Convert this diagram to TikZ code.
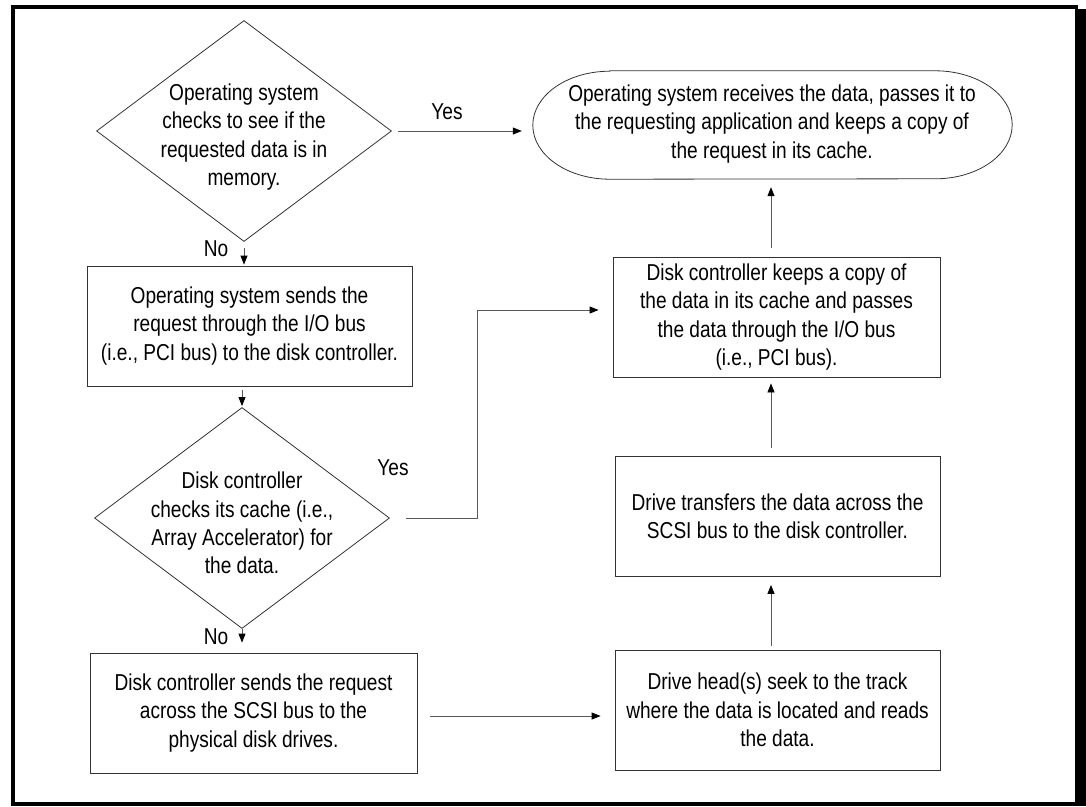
\documentclass[tikz,border=0pt]{standalone}
\usepackage{fontspec}
\setmainfont{Liberation Sans}[FakeStretch=0.83]
\usetikzlibrary{shapes.geometric,arrows.meta,calc}
\tikzset{
  txt/.style={align=center, inner sep=0pt, font=\fontsize{23}{28.4}\selectfont},
  boxnode/.style={draw=black!80, line width=0.8pt, minimum width=#1, minimum height=120pt, inner sep=0pt},
  dia/.style={draw=black!80, line width=0.8pt, diamond, minimum width=295pt, minimum height=221pt, inner sep=0pt},
  arr/.style={draw=black!65, line width=0.8pt, -{Triangle[length=9pt,width=7pt,color=black]}},
  frame/.style={fill=black, draw=none}
}
\begin{document}
\begin{tikzpicture}[x=1pt,y=-1pt]
\useasboundingbox (0,0) rectangle (1086,806);
% frame
\fill[frame] (11,5) rectangle (1078,9);
\fill[frame] (11,5) rectangle (15,806);
\fill[frame] (11,802) rectangle (1086,806);
\fill[frame] (1075,9) rectangle (1086,806);

% decision 1
\node[dia] (d1) at (244,131) {};
\node[txt] (d1t) at (244,137) {Operating system\\checks to see if the\\requested data is in\\memory.};

% terminal ellipse
\node[minimum width=479pt, minimum height=108pt, inner sep=0pt] (e) at (772.5,125) {};
\draw[draw=black!80, line width=0.8pt]
  ($(e.north west)+(77,0)$) -- ($(e.north east)+(-77,0)$)
  arc[start angle=-90, end angle=90, x radius=77, y radius=54]
  -- ($(e.south west)+(77,0)$)
  arc[start angle=90, end angle=270, x radius=77, y radius=54] -- cycle;
\node[txt] (et) at (772,124) {Operating system receives the data, passes it to\\the requesting application and keeps a copy of\\the request in its cache.};

% boxes
\node[boxnode=325pt, txt] (b1) at (249.5,326) {Operating system sends the\\request through the I/O bus\\(i.e., PCI bus) to the disk controller.};
\node[boxnode=327pt, txt] (b2) at (776.5,317) {Disk controller keeps a copy of\\the data in its cache and passes\\the data through the I/O bus\\(i.e., PCI bus).};
\node[boxnode=325pt, txt] (b3) at (777.5,516.5) {Drive transfers the data across the\\SCSI bus to the disk controller.};
\node[boxnode=325pt, txt] (b4) at (777.5,710) {Drive head(s) seek to the track\\where the data is located and reads\\the data.};
\node[boxnode=327pt, txt] (b5) at (253.5,713) {Disk controller sends the request\\across the SCSI bus to the\\physical disk drives.};

% decision 2
\node[dia] (d2) at (242,518) {};
\node[txt] (d2t) at (242,523) {Disk controller\\checks its cache (i.e.,\\Array Accelerator) for\\the data.};

% labels
\node[txt] (y1) at (447,112) {Yes};
\node[txt] (n1) at (216,249) {No};
\node[txt] (y2) at (393,468) {Yes};
\node[txt] (n2) at (216,637) {No};

% connectors
\draw[arr, shorten <=6pt, shorten >=11pt] (d1.east) -- (d1.east -| e.west);
\draw[arr, shorten <=6pt, shorten >=1pt] (d1.south) -- (d1.south |- b1.north);
\draw[arr, shorten <=4pt, shorten >=1pt] (b1.south -| d2.north) -- (d2.north);
\coordinate (yc) at (477,310);
\draw[arr, shorten <=16pt, shorten >=14pt] (d2.east) -- (d2.east -| yc) -- (yc) -- (yc -| b2.west);
\draw[arr, shorten >=10pt] (d2.south) -- (d2.south |- b5.north);
\coordinate (s5) at ([yshift=-3pt]b5.east);
\draw[arr, shorten <=13pt, shorten >=14pt] (s5) -- (s5 -| b4.west);
\coordinate (c4) at ([xshift=-6.5pt]b4.north);
\draw[arr, shorten <=4pt, shorten >=8pt] (c4) -- (c4 |- b3.south);
\coordinate (c3) at ([xshift=-6.5pt]b3.north);
\draw[arr, shorten <=8pt, shorten >=6pt] (c3) -- (c3 |- b2.south);
\coordinate (c2) at ([xshift=-5.5pt]b2.north);
\draw[arr, shorten <=9pt, shorten >=8pt] (c2) -- (c2 |- e.south);
\end{tikzpicture}
\end{document}
